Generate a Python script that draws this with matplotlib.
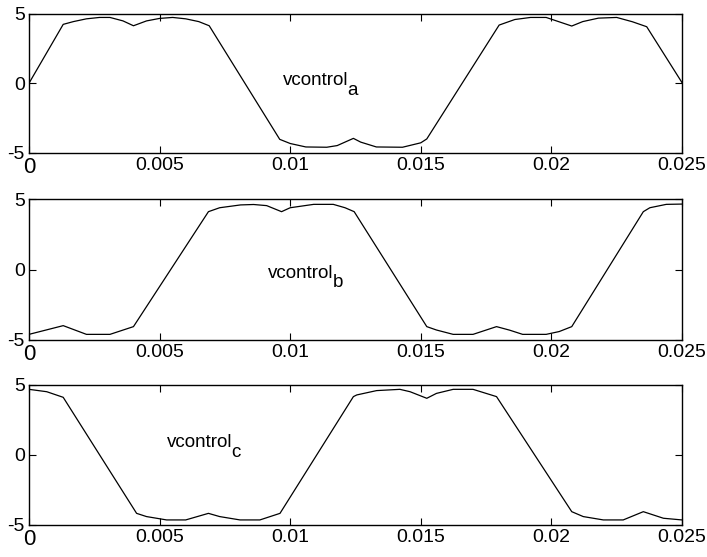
import matplotlib
matplotlib.use("Agg")
import matplotlib.pyplot as plt
from matplotlib.transforms import offset_copy

# ---- data ----
t_a = [0.0, 0.00131, 0.0017, 0.0022, 0.0027, 0.0031, 0.0036, 0.0040, 0.0045, 0.0050,
       0.0055, 0.0060, 0.0065, 0.0069, 0.0096, 0.0100, 0.0106, 0.0114, 0.0118, 0.01242,
       0.0127, 0.0133, 0.0143, 0.0150, 0.01523, 0.0180, 0.0186, 0.0192, 0.0198, 0.02078,
       0.0212, 0.0218, 0.0225, 0.0231, 0.02365, 0.0250]
v_a = [0.0, 4.25, 4.45, 4.65, 4.75, 4.75, 4.50, 4.15, 4.50, 4.68,
       4.75, 4.65, 4.45, 4.15, -4.05, -4.35, -4.60, -4.62, -4.50, -3.98,
       -4.25, -4.60, -4.62, -4.30, -4.02, 4.20, 4.60, 4.75, 4.75, 4.13,
       4.45, 4.70, 4.75, 4.44, 4.08, 0.05]

t_b = [0.0, 0.00131, 0.0022, 0.0031, 0.0040, 0.00687, 0.0073, 0.0081, 0.0086, 0.0091,
       0.00967, 0.0100, 0.0109, 0.01165, 0.0121, 0.01245, 0.01523, 0.0156, 0.01624, 0.0170,
       0.0179, 0.0184, 0.0189, 0.0198, 0.0203, 0.02078, 0.02352, 0.02377, 0.0244, 0.0250]
v_b = [-4.60, -3.98, -4.60, -4.60, -4.05, 4.12, 4.40, 4.60, 4.63, 4.55,
       4.12, 4.40, 4.64, 4.64, 4.40, 4.12, -4.05, -4.29, -4.60, -4.60,
       -4.05, -4.30, -4.60, -4.60, -4.40, -4.05, 4.12, 4.40, 4.64, 4.66]

t_c = [0.0, 0.00068, 0.00131, 0.00412, 0.0045, 0.00527, 0.0060, 0.00687, 0.0073, 0.00808,
       0.00884, 0.00961, 0.01242, 0.01255, 0.01331, 0.0142, 0.01459, 0.01523, 0.0156, 0.01624,
       0.0170, 0.0179, 0.02078, 0.02122, 0.02199, 0.02275, 0.02352, 0.02429, 0.0250]
v_c = [4.69, 4.52, 4.12, -4.17, -4.40, -4.64, -4.64, -4.17, -4.40, -4.64,
       -4.64, -4.17, 4.17, 4.29, 4.60, 4.69, 4.52, 4.05, 4.40, 4.69,
       4.69, 4.17, -4.05, -4.40, -4.64, -4.64, -4.05, -4.52, -4.64]

x_ticks = [0, 0.005, 0.01, 0.015, 0.02, 0.025]
x_ticklabels = ["0", "0.005", "0.01", "0.015", "0.02", "0.025"]
y_ticks = [-5, 0, 5]
y_ticklabels = ["-5", "0", "5"]

series = [(t_a, v_a, "a"), (t_b, v_b, "b"), (t_c, v_c, "c")]
label_pos = [(0.00972, -0.14), (0.00916, -0.59), (0.00527, 0.59)]
sub_drop_px = [10, 9, 10]

plt.rcParams['font.family'] = ['Liberation Sans', 'DejaVu Sans']

fig = plt.figure(figsize=(7.07, 5.57), dpi=100)
rects = [
    [0.041, 0.7262, 0.9236, 0.2487],
    [0.041, 0.3896, 0.9236, 0.2526],
    [0.041, 0.0575, 0.9236, 0.2513],
]

mains = []
for rect, (t, v, sub), (lx, ly), drop in zip(rects, series, label_pos, sub_drop_px):
    ax = fig.add_axes(rect)
    ax.plot(t, v, color='black', linewidth=0.9)
    ax.set_xlim(0, 0.025)
    ax.set_ylim(-5, 5)
    ax.set_xticks(x_ticks)
    ax.set_xticklabels(x_ticklabels)
    ax.set_yticks(y_ticks)
    ax.set_yticklabels(y_ticklabels)
    ax.tick_params(direction='in', length=5, width=0.8, top=True, right=True,
                   labelsize=14, pad=3, colors='black')
    ax.get_xticklabels()[0].set_fontsize(16)
    for s in ax.spines.values():
        s.set_linewidth(1.0)
        s.set_color('black')
    main = ax.text(lx, ly, "vcontrol", fontsize=13.5, ha='left', va='baseline',
                   color='black')
    mains.append((ax, main, sub, drop))

fig.canvas.draw()
renderer = fig.canvas.get_renderer()
for ax, main, sub, drop in mains:
    bb = main.get_window_extent(renderer)
    x_end, _ = ax.transData.inverted().transform((bb.x1, 0))
    tr = offset_copy(ax.transData, fig=fig, x=-0.5, y=-drop * 72 / fig.dpi, units='points')
    ax.text(x_end, main.get_position()[1], sub, fontsize=13.5, ha='left',
            va='baseline', color='black', transform=tr)

fig.savefig("out.png", dpi=100)
